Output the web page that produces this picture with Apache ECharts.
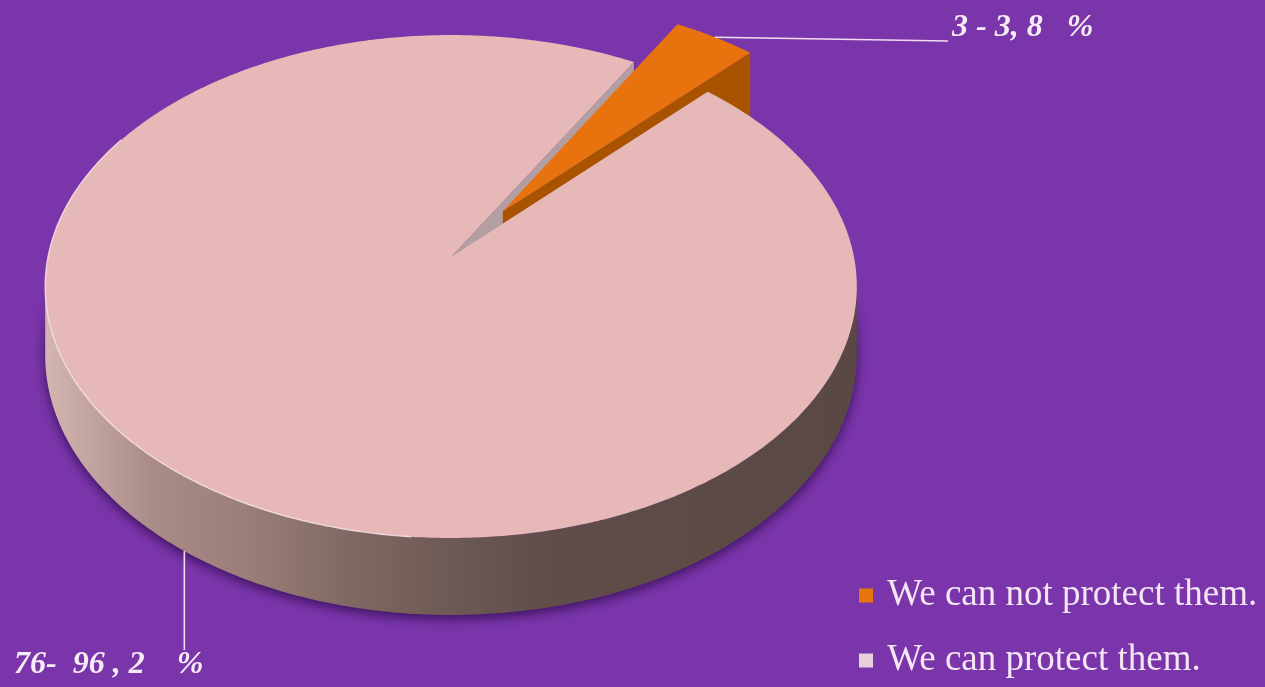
<!DOCTYPE html>
<html>
<head>
<meta charset="utf-8">
<script src="https://cdn.jsdelivr.net/npm/echarts@6/dist/echarts.min.js"></script>
<style>
  html, body { margin: 0; padding: 0; background: #7a35aa; }
  #chart { width: 1265px; height: 687px; }
</style>
</head>
<body>
<div id="chart"></div>
<script>
// Survey answers: how many respondents, and their share of the total
const categories = ['We can not protect them.', 'We can protect them.'];
const counts = [3, 76];
const percents = [3.8, 96.2];
const valueLabels = ['3 - 3, 8   %', '76-  96 , 2    %'];

// Styling per slice
const explode = [0.23, 0];
const explodeTurn = 2;   // degrees the pull-out direction leans towards the start edge
const topColors = ['#e8720e', '#e6b8b8'];
const cutColors = ['#a95200', '#b39ea2'];
const legendColors = ['#e8760f', '#e9cfdc'];

// Tilted-disc view: centre, radii, perspective strength and thickness (px)
const view = { cx: 451, cy: 257, a: 403, b: 248, k: 0.1173, depth: 68, firstAngle: 30 };

// Label placement per slice
const labelLayout = [
  { from: 'top', end: [948, 41], text: [952, 28], align: 'left' },
  { from: 'bottom', end: [null, 650], text: [14, 665], align: 'left' }
];

function project(u, v, drop) {
  const w = 1 + view.k * v;
  return [view.cx + view.a * u / w, view.cy + (-view.b * v + (drop || 0)) / w];
}

const camV = -1 / view.k;
const rad = d => d * Math.PI / 180;

const sideGradient = {
  type: 'linear', global: true,
  x: view.cx - view.a, y: 0, x2: view.cx + view.a, y2: 0,
  colorStops: [
    { offset: 0, color: '#d2b5b1' },
    { offset: 0.13, color: '#a98b87' },
    { offset: 0.25, color: '#9a7d78' },
    { offset: 0.376, color: '#7f6863' },
    { offset: 0.5, color: '#6d5955' },
    { offset: 0.62, color: '#604d49' },
    { offset: 1, color: '#5a4844' }
  ]
};

function renderSlice(params, api) {
  const idx = params.seriesIndex;
  const before = api.value(0);
  const pct = api.value(1);
  const a0 = 90 - view.firstAngle - before * 3.6; // start edge (math degrees)
  const a1 = a0 - pct * 3.6;                        // end edge, clockwise
  const mid = (a0 + a1) / 2;
  const ex = explode[idx];
  const pull = mid + explodeTurn;
  const eu = ex * Math.cos(rad(pull));
  const ev = ex * Math.sin(rad(pull));
  const raised = ex > 0 ? 1 : 0;
  const d = view.depth;

  const rim = (deg, drop) => project(eu + Math.cos(rad(deg)), ev + Math.sin(rad(deg)), drop);
  const arc = (from, to, drop) => {
    const n = Math.max(2, Math.ceil(Math.abs(to - from) / 0.5));
    const pts = [];
    for (let i = 0; i <= n; i++) pts.push(rim(from + (to - from) * i / n, drop));
    return pts;
  };

  const children = [];

  // outer curved wall: only the part facing the viewer
  const facing = deg => {
    const c = Math.cos(rad(deg)), s = Math.sin(rad(deg));
    return c * (-eu - c) + s * (camV - ev - s) > 0;
  };
  const runs = [];
  let run = null;
  const steps = Math.ceil((a0 - a1) / 0.25);
  for (let i = 0; i <= steps; i++) {
    const deg = a0 - (a0 - a1) * i / steps;
    if (facing(deg)) {
      if (!run) { run = [deg, deg]; runs.push(run); }
      run[1] = deg;
    } else {
      run = null;
    }
  }
  runs.forEach(r => {
    const top = arc(r[0], r[1], 0);
    const bottom = arc(r[1], r[0], d);
    children.push({
      type: 'polygon', z2: 1,
      shape: { points: top.concat(bottom) },
      style: {
        fill: sideGradient,
        shadowBlur: 12, shadowColor: 'rgba(40,6,70,0.75)', shadowOffsetY: 4
      }
    });
  });

  // cut faces along the two straight edges
  const apexTop = project(eu, ev, 0);
  const apexBottom = project(eu, ev, d);
  [[a1, a1 - 90], [a0, a0 + 90]].forEach(([edge, nDeg]) => {
    const nu = Math.cos(rad(nDeg)), nv = Math.sin(rad(nDeg));
    if (nu * (-eu) + nv * (camV - ev) <= 0) return;
    children.push({
      type: 'polygon', z2: 2 + raised,
      shape: { points: [apexTop, rim(edge, 0), rim(edge, d), apexBottom] },
      style: { fill: cutColors[idx] }
    });
  });

  // top face
  children.push({
    type: 'polygon', z2: 4 + raised,
    shape: { points: [apexTop].concat(arc(a0, a1, 0)) },
    style: { fill: topColors[idx] }
  });

  // soft highlight along the front-left rim
  if (!raised) {
    let h0 = 150, h1 = 265;
    while (h1 > a0) { h0 -= 360; h1 -= 360; }
    const lo = Math.max(h0, a1), hi = Math.min(h1, a0);
    if (hi > lo) {
      children.push({
        type: 'polyline', z2: 6,
        shape: { points: arc(hi, lo, 0) },
        style: { fill: null, stroke: 'rgba(255,238,238,0.75)', lineWidth: 1.4 }
      });
    }
  }

  // value label with leader line
  const lay = labelLayout[idx];
  const anchor = lay.from === 'top' ? rim(mid, 0) : rim(mid, d);
  const end = [lay.end[0] == null ? anchor[0] : lay.end[0], lay.end[1]];
  children.push({
    type: 'polyline', z2: 7,
    shape: { points: [anchor, end] },
    style: { fill: null, stroke: '#f2dcef', lineWidth: 1.6 }
  });
  children.push({
    type: 'text', z2: 8,
    x: lay.text[0], y: lay.text[1],
    style: {
      text: valueLabels[idx],
      fill: '#f6ecf6',
      font: 'italic bold 32px "Liberation Serif", "DejaVu Serif", serif',
      align: lay.align, verticalAlign: 'middle'
    }
  });

  return { type: 'group', children };
}

// cumulative share before each slice
const starts = percents.map((p, i) => percents.slice(0, i).reduce((s, x) => s + x, 0));

const chart = echarts.init(document.getElementById('chart'), null, { renderer: 'canvas' });
chart.setOption({
  backgroundColor: '#7a35aa',
  animation: false,
  legend: {
    data: categories,
    orient: 'vertical',
    left: 854,
    top: 572,
    itemWidth: 14,
    itemHeight: 14,
    itemGap: 28,
    icon: 'rect',
    selectedMode: false,
    formatter: name => ' ' + name,
    textStyle: {
      color: '#f4e6f4',
      fontSize: 37,
      lineHeight: 37,
      fontFamily: '"Liberation Serif", "DejaVu Serif", serif'
    }
  },
  series: categories.map((name, i) => ({
    type: 'custom',
    name,
    coordinateSystem: 'none',
    silent: true,
    itemStyle: { color: legendColors[i] },
    renderItem: renderSlice,
    data: [[starts[i], percents[i], counts[i]]]
  }))
});
</script>
</body>
</html>
